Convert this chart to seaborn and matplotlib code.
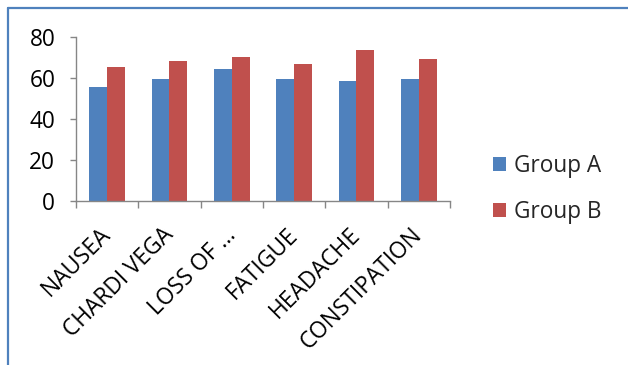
import numpy as np
import pandas as pd
import matplotlib
matplotlib.use("Agg")
import matplotlib.pyplot as plt
import matplotlib.transforms as mtransforms
from matplotlib.lines import Line2D
from matplotlib.patches import Patch
import seaborn as sns

# ---- data ----
categories = ["NAUSEA", "CHARDI VEGA", "LOSS OF \u2026", "FATIGUE", "HEADACHE", "CONSTIPATION"]
group_a = [55.7, 59.5, 64.4, 59.5, 58.8, 59.5]
group_b = [65.3, 68.4, 70.2, 67.1, 73.8, 69.5]
series_names = ["Group A", "Group B"]
y_ticks = [0, 20, 40, 60, 80]

colors = ["#4F81BD", "#C0504D"]
axis_gray = "#868686"

df = pd.DataFrame({
    "symptom": categories * 2,
    "value": group_a + group_b,
    "group": [series_names[0]] * len(categories) + [series_names[1]] * len(categories),
})

sns.set_style("white")
plt.rcParams["font.family"] = ["Open Sans", "DejaVu Sans"]
FS = 16.3

fig = plt.figure(figsize=(6.28, 3.65), dpi=100)
ax = fig.add_axes([76 / 628, 1 - 201 / 365, (450 - 76) / 628, (201 - 37.3) / 365])

sns.barplot(data=df, x="symptom", y="value", hue="group", palette=colors,
            width=0.57, saturation=1, linewidth=0, ax=ax, legend=False)

ax.set_xlim(-0.5, len(categories) - 0.5)
ax.set_ylim(0, 80)
ax.set_yticks(y_ticks)
ax.set_yticklabels([str(t) for t in y_ticks], fontsize=FS, color="black")
ax.set_xlabel("")
ax.set_ylabel("")

for s in ["top", "right"]:
    ax.spines[s].set_visible(False)
for s in ["left", "bottom"]:
    ax.spines[s].set_color(axis_gray)
    ax.spines[s].set_linewidth(1.0)

ax.tick_params(axis="y", length=4.5, width=1.0, color=axis_gray, pad=10.5, direction="out", left=True)
ax.set_xticks(np.arange(-0.5, len(categories), 1.0), minor=True)
ax.tick_params(axis="x", which="minor", length=5, width=1.0, color=axis_gray, direction="out", bottom=True)
ax.tick_params(axis="x", which="major", length=0, pad=25)
ax.set_xticks(range(len(categories)))
ax.set_xticklabels(categories, rotation=45, ha="right", va="baseline",
                   rotation_mode="anchor", fontsize=FS, color="black")
off = mtransforms.ScaledTranslation(4.5 / 100, 0, fig.dpi_scale_trans)
for lbl in ax.get_xticklabels():
    lbl.set_transform(lbl.get_transform() + off)

handles = [Patch(facecolor=c, edgecolor="none") for c in colors]
fig.legend(handles, series_names, loc="center left",
           bbox_to_anchor=(493 / 628, 1 - 189 / 365), bbox_transform=fig.transFigure,
           frameon=False, fontsize=FS, handlelength=0.58, handleheight=0.58,
           handletextpad=0.33, labelspacing=1.0, borderpad=0, borderaxespad=0)

# outer chart frame (partially visible)
fig.add_artist(Line2D([8 / 628, 8 / 628], [0, 1 - 8 / 365], transform=fig.transFigure,
                      color="#4F81BD", linewidth=1.6))
fig.add_artist(Line2D([8 / 628, 1], [1 - 8 / 365, 1 - 8 / 365], transform=fig.transFigure,
                      color="#4F81BD", linewidth=1.6))

fig.savefig("out.png", dpi=100)
